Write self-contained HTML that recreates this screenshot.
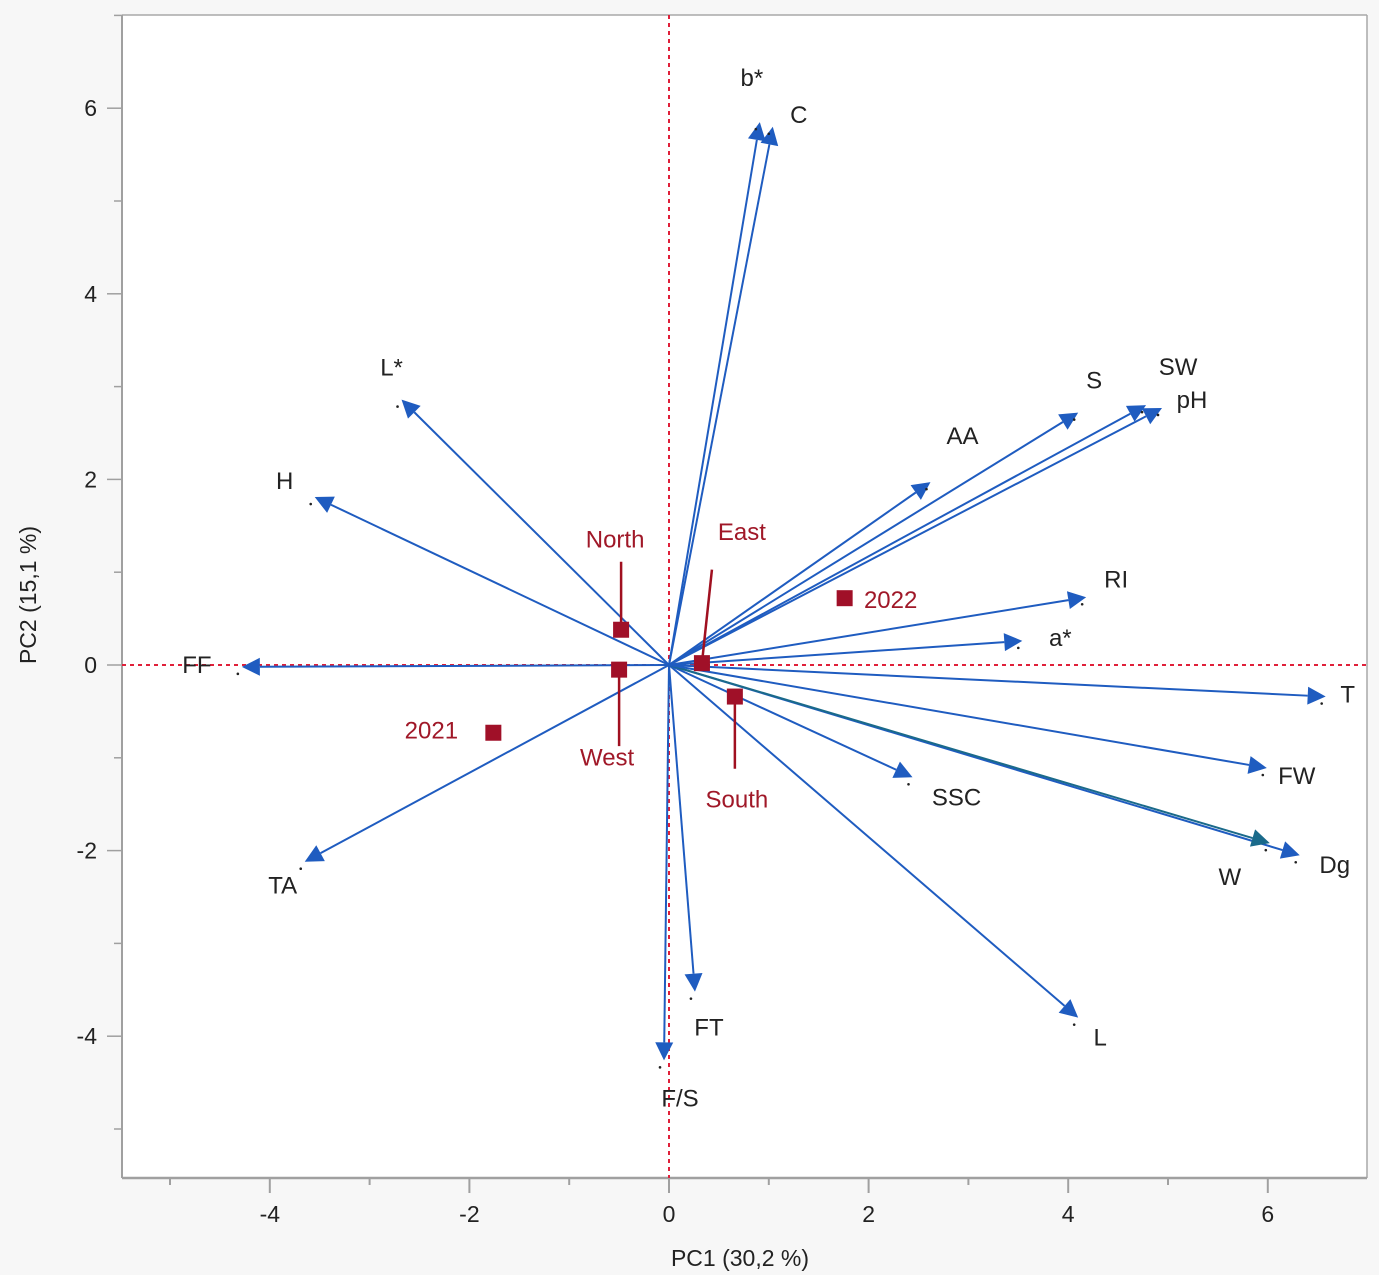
<!DOCTYPE html>
<html><head><meta charset="utf-8">
<style>
body{margin:0;background:#f7f7f7;font-family:"Liberation Sans",sans-serif;}
svg{display:block}
</style></head>
<body>
<svg id="chart" width="1379" height="1275" xmlns="http://www.w3.org/2000/svg">
<rect x="0" y="0" width="1379" height="1275" fill="#f7f7f7"/>
<rect x="122" y="15" width="1245" height="1163" fill="#fff"/>
<g id="g"></g>
</svg>
<script>
const varNames=["b*","C","L*","H","FF","TA","F/S","FT","L","SSC","Dg","W","FW","T","a*","RI","AA","S","SW","pH"];
const varPC1=[0.91,1.04,-2.68,-3.55,-4.28,-3.65,-0.05,0.26,4.1,2.44,6.32,6.02,5.99,6.58,3.54,4.18,2.62,4.1,4.78,4.94];
const varPC2=[5.85,5.8,2.86,1.81,-0.02,-2.12,-4.26,-3.52,-3.8,-1.21,-2.05,-1.92,-1.11,-0.34,0.26,0.73,1.97,2.72,2.8,2.77];
const labelDx=[-8,26,-10,-30,-45,-22,16,14,22,44,35,-40,30,22,38,30,32,16,32,30];
const labelDy=[-44,-12,-32,-16,-2,24,38,36,20,20,10,34,8,-2,-3,-18,-46,-32,-38,-8];
const grpNames=["North","West","East","South","2021","2022"];
const grpPC1=[-0.48,-0.5,0.33,0.66,-1.76,1.76];
const grpPC2=[0.38,-0.05,0.02,-0.34,-0.73,0.72];
const xTicks=[-4,-2,0,2,4,6];
const yTicks=[-4,-2,0,2,4,6];

const X=v=>669+99.8*v, Y=v=>665-92.8*v;
const NS="http://www.w3.org/2000/svg", g=document.getElementById('g');
function mk(t,a,p){const e=document.createElementNS(NS,t);for(const k in a)e.setAttribute(k,a[k]);(p||g).appendChild(e);return e;}

let e=mk('line',{x1:122,y1:15,x2:1367,y2:15,stroke:'#a8a8a8','stroke-width':1.5});

e=mk('line',{x1:1367,y1:15,x2:1367,y2:1178,stroke:'#a8a8a8','stroke-width':1.5});

e=mk('line',{x1:122,y1:15,x2:122,y2:1178,stroke:'#a0a0a0','stroke-width':2});

e=mk('line',{x1:122,y1:1178,x2:1367,y2:1178,stroke:'#a0a0a0','stroke-width':2.5});

for(let v=-5;v<=7;v++){const x=X(v);if(x<122||x>1367)continue;const maj=v%2===0;
 e=mk('line',{x1:x,y1:1178,x2:x,y2:maj?1193:1185,stroke:'#a0a0a0','stroke-width':2});
 }
for(let v=-5;v<=7;v++){const y=Y(v);if(y<15||y>1178)continue;const maj=v%2===0;
 e=mk('line',{x1:maj?107:114,y1:y,x2:122,y2:y,stroke:'#a0a0a0','stroke-width':1.5});
 }
xTicks.forEach(v=>{e=mk('text',{x:X(v),y:1222,'text-anchor':'middle','font-size':23,fill:'#222'});e.textContent=v;
 });
yTicks.forEach(v=>{e=mk('text',{x:97,y:Y(v)+8,'text-anchor':'end','font-size':23,fill:'#222'});e.textContent=v;
 });
e=mk('text',{x:740,y:1266,'text-anchor':'middle','font-size':23,fill:'#222'});e.textContent='PC1  (30,2 %)';

e=mk('text',{x:36,y:595,'text-anchor':'middle','font-size':23,fill:'#222',transform:'rotate(-90 36 595)'});e.textContent='PC2 (15,1 %)';


e=mk('line',{x1:X(0),y1:15,x2:X(0),y2:1178,stroke:'#e0203a','stroke-width':2,'stroke-dasharray':'4,4'});

e=mk('line',{x1:122,y1:Y(0),x2:1367,y2:Y(0),stroke:'#e0203a','stroke-width':2,'stroke-dasharray':'4,4'});


const ox=X(0),oy=Y(0);
varNames.forEach((n,i)=>{
 const tx=X(varPC1[i]),ty=Y(varPC2[i]);
 const dx=tx-ox,dy=ty-oy,L=Math.hypot(dx,dy),ux=dx/L,uy=dy/L;
 const bx=tx-ux*18,by=ty-uy*18;
 const col=n==='W'?'#1a6a8a':'#1f5cc0';
 const grp=mk('g',{});
 
 
 mk('line',{x1:ox,y1:oy,x2:bx,y2:by,stroke:col,'stroke-width':2},grp);
 mk('polygon',{points:`${tx},${ty} ${bx-uy*9},${by+ux*9} ${bx+uy*9},${by-ux*9}`,fill:col},grp);
 mk('circle',{cx:tx-4,cy:ty+7,r:1.3,fill:'#222'},grp);
 const t=mk('text',{x:tx+labelDx[i],y:ty+labelDy[i]+8,'text-anchor':'middle','font-size':24,fill:'#222'},grp);
 t.textContent=n;
});

const lblOff=[[0,-80,-6,-90],[0,90,-12,88],[10,-110,40,-131],[0,85,2,103],[-62,0,-62,-2],[60,0,46,2]];
grpNames.forEach((n,i)=>{
 const x=X(grpPC1[i]),y=Y(grpPC2[i]);
 const grp=mk('g',{});
 
 
 const o=lblOff[i];
 if(i<4) mk('line',{x1:x,y1:y,x2:x+o[0],y2:y+o[1]*0.85,stroke:'#a01020','stroke-width':2.5},grp);
 mk('rect',{x:x-8,y:y-8,width:16,height:16,fill:'#a01028'},grp);
 const t=mk('text',{x:x+o[2],y:y+o[3]+8,'text-anchor':'middle','font-size':24,fill:'#a01828'},grp);
 t.textContent=n;
});
</script>
</body></html>
